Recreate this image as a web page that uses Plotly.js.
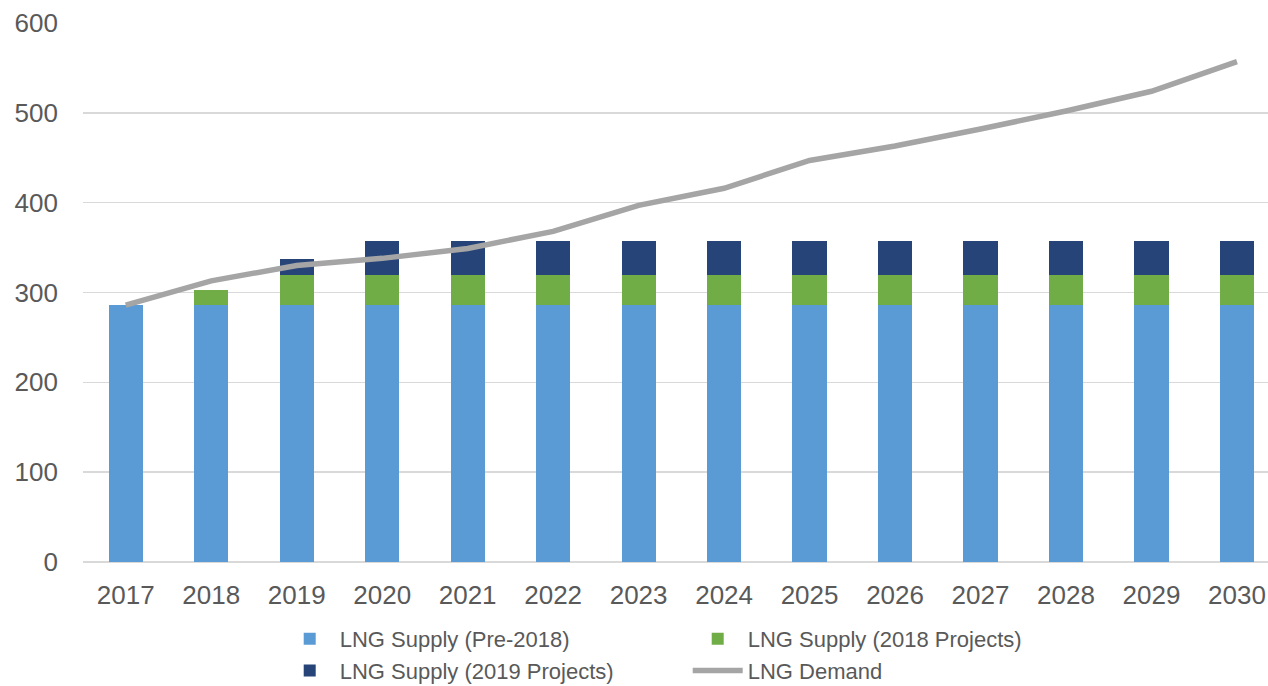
<!DOCTYPE html>
<html>
<head>
<meta charset="utf-8">
<script src="https://cdn.plot.ly/plotly-3.0.1.min.js"></script>
<style>html,body{margin:0;padding:0;background:#fff;overflow:hidden}#chart{width:1268px;height:686px}</style>
</head>
<body>
<div id="chart"></div>
<script>
const years = ["2017","2018","2019","2020","2021","2022","2023","2024","2025","2026","2027","2028","2029","2030"];
const supplyPre2018 = [286,286,286,286,286,286,286,286,286,286,286,286,286,286];
const supply2018 = [0,17,33,33,33,33,33,33,33,33,33,33,33,33];
const supply2019 = [0,0,18,38,38,38,38,38,38,38,38,38,38,38];
const demand = [286,313,330,338,349,368,397,416,447,463,482,502,524,557];

const font = "Liberation Sans, Arial, sans-serif";
const traces = [
  {type:"bar", name:"LNG Supply (Pre-2018)", x:years, y:supplyPre2018, marker:{color:"#5B9BD5"}, width:0.4},
  {type:"bar", name:"LNG Supply (2018 Projects)", x:years, y:supply2018, marker:{color:"#70AD47"}, width:0.4},
  {type:"bar", name:"LNG Supply (2019 Projects)", x:years, y:supply2019, marker:{color:"#264478"}, width:0.4},
  {type:"scatter", mode:"lines", name:"LNG Demand", x:years, y:demand, line:{color:"#A5A5A5", width:5.5}}
];
const layout = {
  width:1268, height:686,
  margin:{l:83, r:0, t:23, b:124, autoexpand:false},
  barmode:"stack",
  paper_bgcolor:"#fff", plot_bgcolor:"#fff",
  font:{family:font, color:"#595959", size:22},
  showlegend:true,
  xaxis:{type:"category", range:[-0.5,13.363], showgrid:false, zeroline:false, showline:false,
         ticks:"", tickfont:{size:26, color:"#595959"}, ticklabelstandoff:15},
  yaxis:{range:[0,600], dtick:100, showgrid:true, gridcolor:"#D9D9D9", gridwidth:1.5,
         zeroline:true, zerolinecolor:"#D9D9D9", zerolinewidth:1.5, showline:false, ticks:"",
         tickfont:{size:26, color:"#595959"}, ticklabelstandoff:24},
  legend:{orientation:"h", x:0.166, xanchor:"left", y:-0.104, yanchor:"top",
          font:{size:22, color:"#595959"}, traceorder:"normal",
          entrywidth:343, entrywidthmode:"pixels", itemwidth:50, tracegroupgap:0, itemgap:0}
};
Plotly.newPlot("chart", traces, layout, {displayModeBar:false, staticPlot:true});
</script>
</body>
</html>
